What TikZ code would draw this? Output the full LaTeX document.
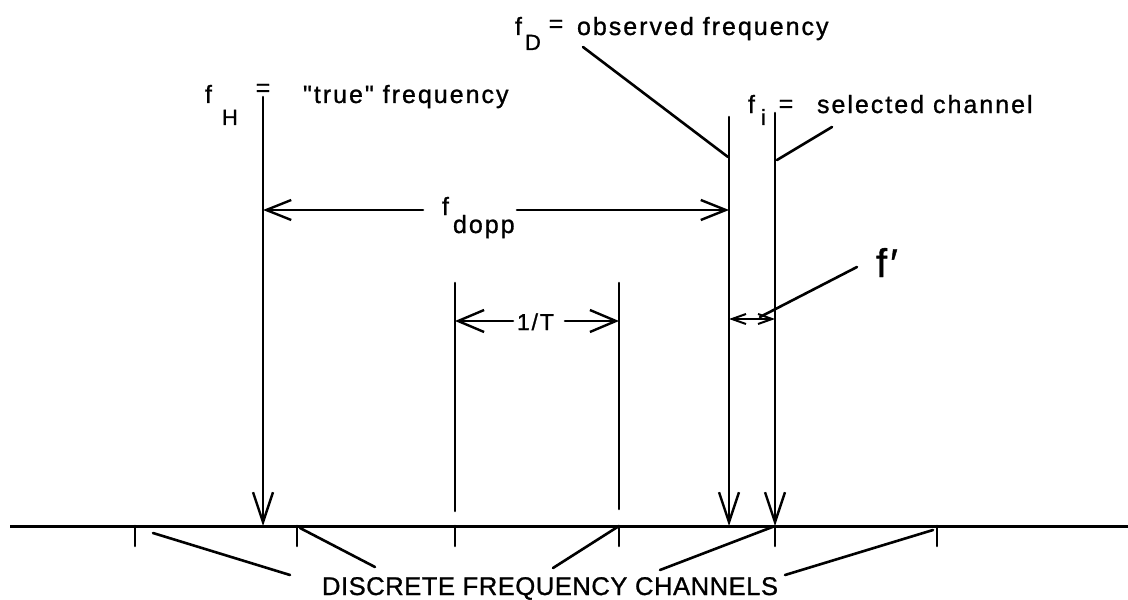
\documentclass[tikz,border=0pt]{standalone}
\usepackage{fontspec}
\setmainfont{Liberation Sans}
\newfontfamily\labfont[LetterSpace=8, FakeBold=1]{Liberation Sans}
\newfontfamily\capfont[LetterSpace=2, FakeBold=1]{Liberation Sans}
\usetikzlibrary{arrows.meta}
\tikzset{
  txt/.style={inner sep=0pt, outer sep=0pt, anchor=base west, font=\labfont\fontsize{12.5}{14}\selectfont},
  subtxt/.style={inner sep=0pt, outer sep=0pt, anchor=base west, font=\labfont\fontsize{11}{13}\selectfont},
  eqtxt/.style={inner sep=0pt, outer sep=0pt, anchor=center, font=\labfont\fontsize{12.5}{14}\selectfont},
  captxt/.style={inner sep=0pt, outer sep=0pt, anchor=base west, font=\capfont\fontsize{12.8}{15}\selectfont},
  bigtxt/.style={inner sep=0pt, outer sep=0pt, anchor=base west, font=\labfont\fontsize{20}{22}\selectfont},
  ln/.style={line width=1.3pt, line cap=round},
  axis/.style={line width=1.5pt},
  varr/.style={ln, -{Straight Barb[length=15pt, width=10pt, line width=1.2pt]}},
  harr/.style={ln, -{Straight Barb[length=12.5pt, width=10pt, line width=1.2pt]}},
  tarr/.style={ln, -{Straight Barb[length=13pt, width=11pt, line width=1.2pt]}},
  sarr/.style={ln, {Straight Barb[length=7pt, width=5pt, line width=1pt]}-{Straight Barb[length=7pt, width=5pt, line width=1pt]}},
}
\begin{document}
\begin{tikzpicture}[x=0.5pt, y=-0.5pt]
\useasboundingbox (0,0) rectangle (1128,599);

% axis
\coordinate (axL) at (10,526);
\coordinate (axR) at (1128,526);
\draw[axis] (axL) -- (axR);

% channel positions on axis
\foreach \n/\x in {1/135, 2/297, 3/455, 4/619, 5/775, 6/937} {
  \coordinate (c\n) at (\x,526);
  \coordinate (t\n) at (\x,546);
  \draw[ln] (c\n) -- (t\n);
}
\coordinate (fHb) at (263,526);
\coordinate (fDb) at (729,526);

% vertical lines
\coordinate (fHt) at (263,97);
\coordinate (fDt) at (729,117);
\coordinate (fit) at (775,113);
\coordinate (at) at (455,283);
\coordinate (ab) at (455,511);
\coordinate (bt) at (619,283);
\coordinate (bb) at (619,509);
\draw[varr] (fHt) -- (fHb);
\draw[varr] (fDt) -- (fDb);
\draw[varr] (fit) -- (c5);
\draw[ln] (at) -- (ab);
\draw[ln] (bt) -- (bb);

% top labels
\node[txt] (fHf) at (205,103) {f};
\node[subtxt] (fHs) at (222,125) {H};
\node[eqtxt] (fHeq) at (263,90) {=};
\node[txt] (fHtx) at (303,103) {"true" frequency};

\node[txt] (fDf) at (515,35) {f};
\node[subtxt] (fDs) at (525,50) {D};
\node[eqtxt] (fDeq) at (556,26) {=};
\node[txt] (fDtx) at (577,35) {observed frequency};

\node[txt] (fif) at (748,113) {f};
\node[subtxt] (fis) at (761,125) {i};
\node[eqtxt] (fieq) at (786,106) {=};
\node[txt] (fitx) at (817,113) {selected channel};

% leaders from top labels
\coordinate (lD1) at (583,47);
\coordinate (lD2) at (728,157);
\draw[ln] (lD1) -- (lD2);
\coordinate (li1) at (832,127);
\coordinate (li2) at (777,160);
\draw[ln] (li1) -- (li2);

% f_dopp
\node[txt] (fdf) at (442,215) {f};
\node[txt] (fds) at (453,233) {dopp};
\coordinate (fdL) at (423,210);
\coordinate (fdR) at (517,210);
\coordinate (fdLe) at (263,210);
\coordinate (fdRe) at (729,210);
\draw[harr] (fdL) -- (fdLe);
\draw[harr] (fdR) -- (fdRe);

% 1/T
\node[txt, font=\labfont\fontsize{11.5}{13}\selectfont] (oneT) at (517,330) {1/T};
\coordinate (tL) at (513,321);
\coordinate (tR) at (565,321);
\coordinate (tLe) at (455,321);
\coordinate (tRe) at (619,321);
\draw[tarr] (tL) -- (tLe);
\draw[tarr] (tR) -- (tRe);

% f'
\coordinate (pL) at (729,319);
\coordinate (pR) at (775,319);
\draw[sarr] (pL) -- (pR);
\node[bigtxt] (fp) at (876,277) {f′};
\coordinate (pl1) at (857,267);
\coordinate (pl2) at (760,317);
\draw[ln] (pl1) -- (pl2);

% bottom label
\node[captxt] (dfc) at (322,595) {DISCRETE FREQUENCY CHANNELS};
\coordinate (b1a) at (153,533); \coordinate (b1b) at (290,575);
\coordinate (b2a) at (300,528); \coordinate (b2b) at (375,567);
\coordinate (b3a) at (553,568);
\coordinate (b4a) at (660,570);
\coordinate (b5a) at (785,575); \coordinate (b5b) at (933,530);
\draw[ln] (b1a) -- (b1b);
\draw[ln] (b2a) -- (b2b);
\draw[ln] (b3a) -- (c4);
\draw[ln] (b4a) -- (c5);
\draw[ln] (b5a) -- (b5b);
\end{tikzpicture}
\end{document}
